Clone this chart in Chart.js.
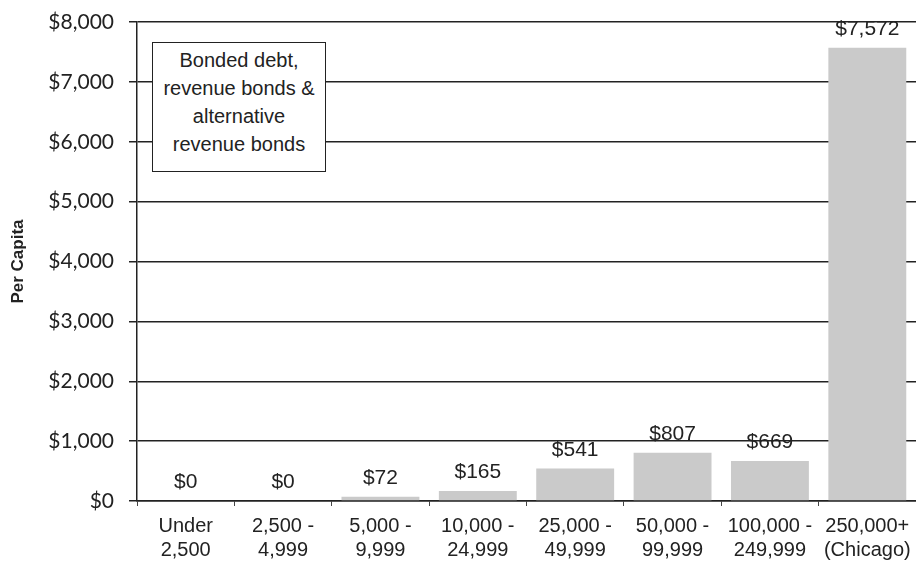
<!DOCTYPE html>
<html>
<head>
<meta charset="utf-8">
<script src="https://cdn.jsdelivr.net/npm/chart.js"></script>
<style>
  html, body { margin: 0; padding: 0; background: #fff; }
  #wrap { position: relative; width: 916px; height: 565px; }
  #note {
    position: absolute; left: 152px; top: 42px; width: 172px; height: 125px;
    border: 1.5px solid #222; background: #fff; box-sizing: content-box;
    font-family: "Liberation Sans", Arial, sans-serif; font-size: 20px; line-height: 28px;
    color: #222; text-align: center; padding-top: 3px;
  }
</style>
</head>
<body>
<div id="wrap">
  <canvas id="debtChart" width="916" height="565"></canvas>
  <div id="note">Bonded debt,<br>revenue bonds &amp;<br>alternative<br>revenue bonds</div>
</div>
<script>
  const populationGroups = [
    ["Under", "2,500"],
    ["2,500 -", "4,999"],
    ["5,000 -", "9,999"],
    ["10,000 -", "24,999"],
    ["25,000 -", "49,999"],
    ["50,000 -", "99,999"],
    ["100,000 -", "249,999"],
    ["250,000+", "(Chicago)"]
  ];
  const perCapitaDebt = [0, 0, 72, 165, 541, 807, 669, 7572];
  const yTicks = [0, 1000, 2000, 3000, 4000, 5000, 6000, 7000, 8000];

  function dollars(v) {
    return "$" + Number(v).toLocaleString("en-US");
  }

  // value labels above each bar
  const barLabels = {
    id: "barLabels",
    afterDatasetsDraw(chart) {
      const ctx = chart.ctx;
      const meta = chart.getDatasetMeta(0);
      ctx.save();
      ctx.font = '21px "Liberation Sans", Arial, sans-serif';
      ctx.fillStyle = "#222";
      ctx.textAlign = "center";
      ctx.textBaseline = "bottom";
      meta.data.forEach((bar, i) => {
        ctx.fillText(dollars(perCapitaDebt[i]), bar.x, bar.y - 8);
      });
      ctx.restore();
    }
  };

  new Chart(document.getElementById("debtChart"), {
    type: "bar",
    data: {
      labels: populationGroups,
      datasets: [{
        data: perCapitaDebt,
        backgroundColor: "#cacaca",
        borderWidth: 0,
        barPercentage: 1,
        categoryPercentage: 0.8
      }]
    },
    options: {
      responsive: false,
      animation: false,
      layout: { padding: { top: 22, right: 0, bottom: 0, left: 0 } },
      plugins: { legend: { display: false }, tooltip: { enabled: false } },
      scales: {
        x: {
          grid: { drawOnChartArea: false, drawTicks: true, tickLength: 5, color: "#444", lineWidth: 1 },
          border: { color: "#222", width: 1.5 },
          ticks: {
            color: "#222",
            padding: 9,
            maxRotation: 0,
            autoSkip: false,
            font: { family: '"Liberation Sans", Arial, sans-serif', size: 20, lineHeight: 1.18 }
          },
          afterFit(axis) {
            axis.height = 64;
            axis.paddingRight = 0;
          }
        },
        y: {
          min: 0,
          max: 8000,
          afterBuildTicks(axis) { axis.ticks = yTicks.map(v => ({ value: v })); },
          grid: { color: "#222", lineWidth: 1.5, tickLength: 8 },
          border: { color: "#222", width: 1.5 },
          ticks: {
            color: "#222",
            padding: 15,
            callback: v => dollars(v),
            font: { family: "Lato, sans-serif", size: 21 }
          },
          title: {
            display: true,
            text: "Per Capita",
            color: "#222",
            padding: { top: 8, bottom: 0 },
            font: { family: '"Liberation Sans", Arial, sans-serif', size: 17, weight: "bold" }
          },
          afterFit(axis) {
            axis.width = 137;
            axis.paddingTop = 0;
          }
        }
      }
    },
    plugins: [barLabels]
  });
</script>
</body>
</html>
